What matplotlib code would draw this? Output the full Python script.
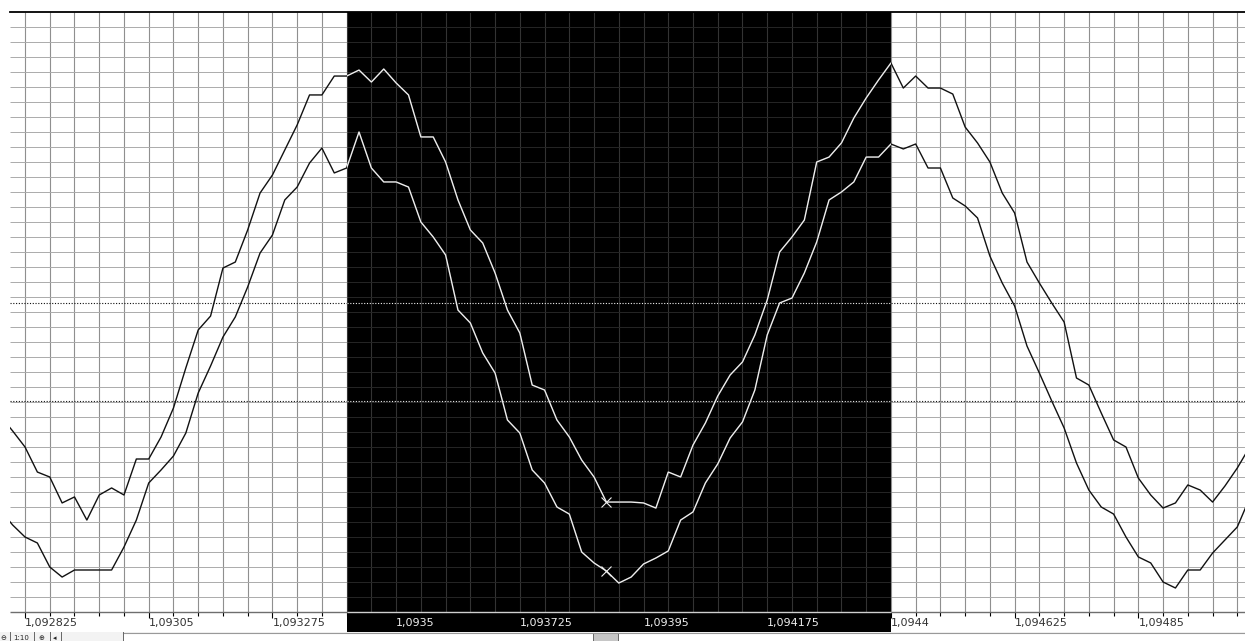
import numpy as np
import matplotlib
matplotlib.use('Agg')
import matplotlib.pyplot as plt
from matplotlib.patches import Rectangle
from matplotlib.lines import Line2D

W, H = 1245, 641

# price axis: one sample every X_STEP, grid every GRID_STEP, label every LABEL_STEP
X_START    = 1.092825
X_STEP     = 0.0000225
GRID_STEP  = 0.000045
LABEL_STEP = 0.000225
X_MIN, X_MAX = 1.0927977, 1.0950440

# highlighted (inverted) zone
BAND_X0 = 1.09341
BAND_X1 = 1.0944

# horizontal reference levels and cursor position
LEVEL_HI = 20.63
LEVEL_LO = 14.07
CURSOR_X = 1.0938825

# leading curve (upper)
line_a = [13.07, 12.07, 11.0, 9.33, 9.0, 7.27, 7.67, 6.13, 7.8, 8.27,
          7.8, 10.2, 10.2, 11.67, 13.6, 16.27, 18.8, 19.73, 22.93, 23.33,
          25.47, 27.93, 29.13, 30.8, 32.47, 34.47, 34.47, 35.73, 35.73, 36.13,
          35.33, 36.2, 35.27, 34.47, 31.67, 31.67, 30.0, 27.47, 25.47, 24.6,
          22.6, 20.13, 18.6, 15.13, 14.8, 12.8, 11.67, 10.13, 9.0, 7.33,
          7.33, 7.33, 7.27, 6.93, 9.33, 9.0, 11.13, 12.6, 14.4, 15.8,
          16.67, 18.47, 20.8, 24.0, 25.0, 26.13, 30.0, 30.33, 31.27, 32.93,
          34.27, 35.47, 36.6, 34.93, 35.73, 34.93, 34.93, 34.53, 32.33, 31.27,
          30.0, 27.93, 26.6, 23.33, 21.93, 20.6, 19.33, 15.6, 15.13, 13.27,
          11.47, 11.0, 8.93, 7.8, 6.93, 7.27, 8.47, 8.13, 7.33, 8.4,
          9.6, 11.0]

# lagging curve (lower)
line_b = [6.8, 5.8, 5.0, 4.6, 3.0, 2.33, 2.8, 2.8, 2.8, 2.8,
          4.33, 6.13, 8.6, 9.47, 10.4, 11.93, 14.6, 16.4, 18.33, 19.67,
          21.67, 23.93, 25.13, 27.47, 28.33, 29.93, 30.93, 29.27, 29.6, 32.0,
          29.6, 28.67, 28.67, 28.33, 26.0, 25.0, 23.8, 20.13, 19.27, 17.27,
          15.93, 12.8, 11.93, 9.47, 8.6, 7.0, 6.53, 4.0, 3.27, 2.73,
          1.93, 2.33, 3.2, 3.6, 4.07, 6.13, 6.67, 8.6, 9.87, 11.6,
          12.67, 14.8, 18.47, 20.6, 20.93, 22.6, 24.67, 27.47, 28.0, 28.67,
          30.33, 30.33, 31.2, 30.87, 31.2, 29.6, 29.6, 27.6, 27.07, 26.27,
          23.73, 21.93, 20.4, 17.73, 15.93, 14.07, 12.27, 9.93, 8.13, 7.0,
          6.53, 5.0, 3.67, 3.27, 2.0, 1.6, 2.8, 2.8, 3.93, 4.8,
          5.67, 7.6]

x = X_START + X_STEP * np.arange(-2, len(line_a) - 2)

GRID_V_LIGHT = '#8f8f8f'
GRID_H_LIGHT = '#ababab'
GRID_V_DARK  = '#333333'
GRID_H_DARK  = '#262626'
INK_DARK     = '#111111'
INK_LIGHT    = '#eeeeee'


def in_band(v):
    return BAND_X0 - 1e-9 < v < BAND_X1 - 1e-9


fig = plt.figure(figsize=(W / 100, H / 100), dpi=100, facecolor='white')
ax = fig.add_axes([10 / W, (H - 612) / H, (W - 10) / W, 600 / H])
ax.set_xlim(X_MIN, X_MAX)
ax.set_ylim(0, 40)
ax.set_facecolor('white')

# black zone, running down behind the tick labels
band = Rectangle((BAND_X0, -20 / 600), BAND_X1 - BAND_X0, 1 + 20 / 600,
                 transform=ax.get_xaxis_transform(), facecolor='black',
                 edgecolor='none', zorder=0.5, clip_on=False)
ax.add_patch(band)

# grid
gx = X_START + GRID_STEP * np.arange(-1, 50)
gx = gx[(gx > X_MIN) & (gx < X_MAX)]
dark = np.array([in_band(v) for v in gx])
ax.vlines(gx[~dark], 0, 40, color=GRID_V_LIGHT, lw=0.8, zorder=1)
ax.vlines(gx[dark], 0, 40, color=GRID_V_DARK, lw=0.8, zorder=1)
gy = np.arange(1, 40)
for x0, x1, c in [(X_MIN, BAND_X0, GRID_H_LIGHT), (BAND_X0, BAND_X1, GRID_H_DARK),
                  (BAND_X1, X_MAX, GRID_H_LIGHT)]:
    ax.hlines(gy, x0, x1, color=c, lw=0.7, zorder=1)
    for lv in (LEVEL_HI, LEVEL_LO):
        ax.hlines(lv, x0, x1, color=INK_DARK if c == GRID_H_LIGHT else INK_LIGHT,
                  lw=0.8, linestyles=(0, (1, 1.5)), zorder=2)

# axis line
ax.hlines(0, X_MIN, BAND_X0, color='#6e6e6e', lw=1.0, clip_on=False, zorder=2)
ax.hlines(0, BAND_X0, BAND_X1, color='#cfcfcf', lw=1.0, clip_on=False, zorder=2)
ax.hlines(0, BAND_X1, X_MAX, color='#6e6e6e', lw=1.0, clip_on=False, zorder=2)

# curves: dark on white, redrawn light inside the black zone
clip = Rectangle((BAND_X0, 0), BAND_X1 - BAND_X0, 1, transform=ax.get_xaxis_transform())
for ys in (line_a, line_b):
    ax.plot(x, ys, color=INK_DARK, lw=1.0, zorder=3)
    ln, = ax.plot(x, ys, color=INK_LIGHT, lw=1.0, zorder=4)
    ln.set_clip_path(clip)

ci = int(np.argmin(np.abs(x - CURSOR_X)))
ax.plot([x[ci], x[ci]], [line_a[ci], line_b[ci]], ls='none', marker='x',
        ms=7, mew=0.8, color=INK_LIGHT, zorder=5)

# ticks and labels
majors = X_START + LABEL_STEP * np.arange(0, 10)
ax.set_xticks(majors)
ax.set_xticklabels([f'{v:.6f}'.rstrip('0').replace('.', ',') for v in majors])
ax.set_xticks(gx, minor=True)
ax.set_yticks([])
ax.tick_params(axis='x', which='major', length=4, width=0.8, pad=0.5, labelsize=8)
ax.tick_params(axis='x', which='minor', length=3, width=0.8)
for t in ax.xaxis.get_major_ticks():
    c = INK_LIGHT if in_band(t.get_loc()) else '#333333'
    t.tick1line.set_color(c)
    t.label1.set_color(c)
    t.label1.set_horizontalalignment('left')
for t in ax.xaxis.get_minor_ticks():
    t.tick1line.set_color(INK_LIGHT if in_band(t.get_loc()) else '#555555')

for s in ('left', 'right', 'bottom'):
    ax.spines[s].set_visible(False)
ax.spines['top'].set_color('black')
ax.spines['top'].set_linewidth(1.3)

# zoom / scroll strip along the bottom edge
def fy(py):
    return (H - py) / H

fig.add_artist(Rectangle((0, 0), 1, fy(632), transform=fig.transFigure,
                         facecolor='#f3f3f3', edgecolor='none'))
fig.add_artist(Line2D([123 / W, 1], [fy(632.5)] * 2, color='#999999', lw=0.8,
                      transform=fig.transFigure))
fig.add_artist(Rectangle((123 / W, 0), 1 - 123 / W, fy(633), transform=fig.transFigure,
                         facecolor='white', edgecolor='none'))
fig.add_artist(Rectangle((593 / W, 0), 25 / W, fy(633), transform=fig.transFigure,
                         facecolor='#c6c6c6', edgecolor='#555555', lw=0.6))
for px, s in [(0, '⊖'), (13, '1:10'), (38, '⊕'), (53, '◂')]:
    fig.text(px / W, fy(640.6), s, fontsize=5, va='bottom', ha='left', color='#222222')
for px in (10, 34, 50, 61, 123):
    fig.add_artist(Line2D([px / W] * 2, [0, fy(632)], color='#666666', lw=0.7,
                          transform=fig.transFigure))

fig.savefig('out.png', dpi=100, facecolor='white')
